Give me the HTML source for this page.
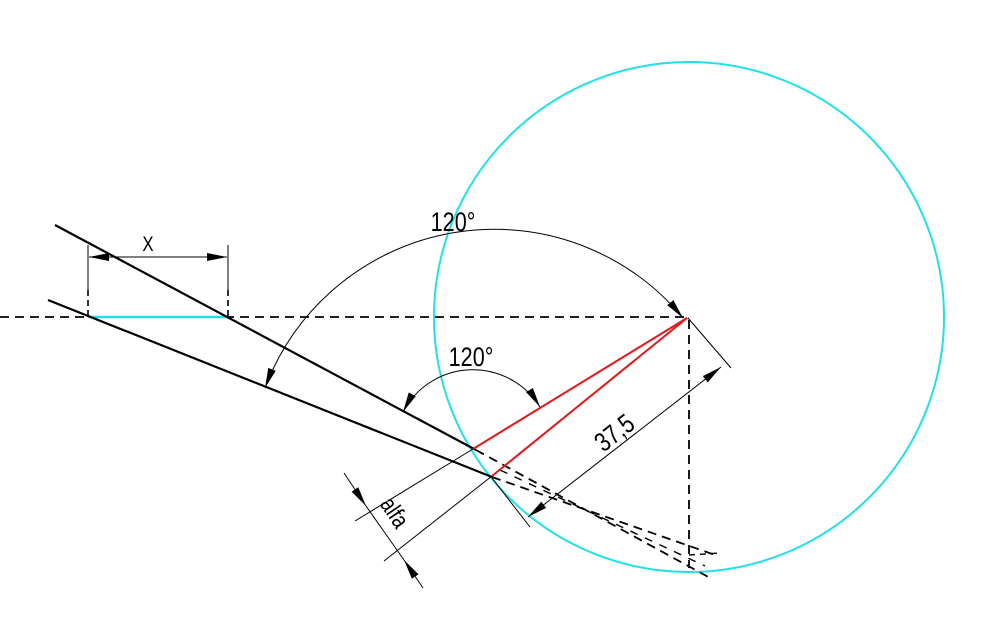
<!DOCTYPE html>
<html><head><meta charset="utf-8"><style>
html,body{margin:0;padding:0;background:#fff;}
svg{display:block;}
text{font-family:"Liberation Sans",sans-serif;fill:#000;}
</style></head><body>
<svg width="986" height="635" viewBox="0 0 986 635" xmlns="http://www.w3.org/2000/svg">
<defs>
<marker id="a" viewBox="0 0 20 8" refX="20" refY="4" markerWidth="20" markerHeight="8" markerUnits="userSpaceOnUse" orient="auto-start-reverse">
<path d="M0,0 L20,4 L0,8 Z" fill="#000"/>
</marker>
</defs>
<circle cx="689" cy="317" r="255" fill="none" stroke="#22e0e8" stroke-width="2"/>
<line x1="0" y1="317" x2="686" y2="317" stroke="#000" stroke-width="1.8" stroke-dasharray="9,6"/>
<line x1="689" y1="320" x2="689" y2="568" stroke="#000" stroke-width="1.8" stroke-dasharray="9,6"/>
<line x1="689" y1="555" x2="720" y2="553" stroke="#000" stroke-width="1.4" stroke-dasharray="6,5"/>
<line x1="88" y1="317" x2="228" y2="317" stroke="#22e0e8" stroke-width="2.4"/>
<line x1="55" y1="225" x2="476" y2="450" stroke="#000" stroke-width="2.2"/>
<line x1="48" y1="300" x2="492" y2="477" stroke="#000" stroke-width="2.2"/>
<line x1="476" y1="450" x2="712" y2="579" stroke="#000" stroke-width="1.8" stroke-dasharray="9,6"/>
<line x1="492" y1="477" x2="718" y2="556" stroke="#000" stroke-width="1.8" stroke-dasharray="9,6"/>
<line x1="500" y1="470" x2="705" y2="566" stroke="#000" stroke-width="1.4" stroke-dasharray="8,8"/>
<line x1="687" y1="318" x2="473" y2="449" stroke="#e01818" stroke-width="2"/>
<line x1="687" y1="318" x2="492" y2="476" stroke="#e01818" stroke-width="2"/>
<line x1="88" y1="245" x2="88" y2="290" stroke="#000" stroke-width="1"/>
<line x1="88" y1="290" x2="88" y2="317" stroke="#000" stroke-width="1.6" stroke-dasharray="6,4"/>
<line x1="228" y1="245" x2="228" y2="290" stroke="#000" stroke-width="1"/>
<line x1="228" y1="290" x2="228" y2="317" stroke="#000" stroke-width="1.6" stroke-dasharray="6,4"/>
<line x1="89" y1="257" x2="227" y2="257" stroke="#000" stroke-width="1" marker-start="url(#a)" marker-end="url(#a)"/>
<text x="0" y="0" font-size="21" text-anchor="middle" transform="translate(148,251) scale(0.8,1)">X</text>
<path d="M265,388 A245,245 0 0 1 683,318" fill="none" stroke="#000" stroke-width="1" marker-start="url(#a)" marker-end="url(#a)"/>
<text x="0" y="0" font-size="27" text-anchor="middle" transform="translate(453,231) scale(0.8,1)">120°</text>
<path d="M403,412 A79,79 0 0 1 540,407" fill="none" stroke="#000" stroke-width="1" marker-start="url(#a)" marker-end="url(#a)"/>
<text x="0" y="0" font-size="27" text-anchor="middle" transform="translate(471,366) scale(0.8,1)">120°</text>
<line x1="688" y1="318" x2="731" y2="368" stroke="#000" stroke-width="1"/>
<line x1="492" y1="478" x2="530" y2="527" stroke="#000" stroke-width="1"/>
<line x1="528" y1="517" x2="721" y2="367" stroke="#000" stroke-width="1" marker-start="url(#a)" marker-end="url(#a)"/>
<text x="0" y="0" font-size="27" text-anchor="middle" transform="translate(620,440) rotate(-38) scale(0.8,1)">37,5</text>
<line x1="473" y1="449" x2="355" y2="521" stroke="#000" stroke-width="1"/>
<line x1="492" y1="476" x2="384" y2="561" stroke="#000" stroke-width="1"/>
<line x1="344" y1="473" x2="366" y2="506" stroke="#000" stroke-width="1" marker-end="url(#a)"/>
<line x1="423" y1="588" x2="404" y2="560" stroke="#000" stroke-width="1" marker-end="url(#a)"/>
<line x1="366" y1="506" x2="404" y2="560" stroke="#000" stroke-width="1"/>
<text x="0" y="0" font-size="24" text-anchor="middle" transform="translate(388,517) rotate(56) scale(0.8,1)">alfa</text>
</svg>
</body></html>
